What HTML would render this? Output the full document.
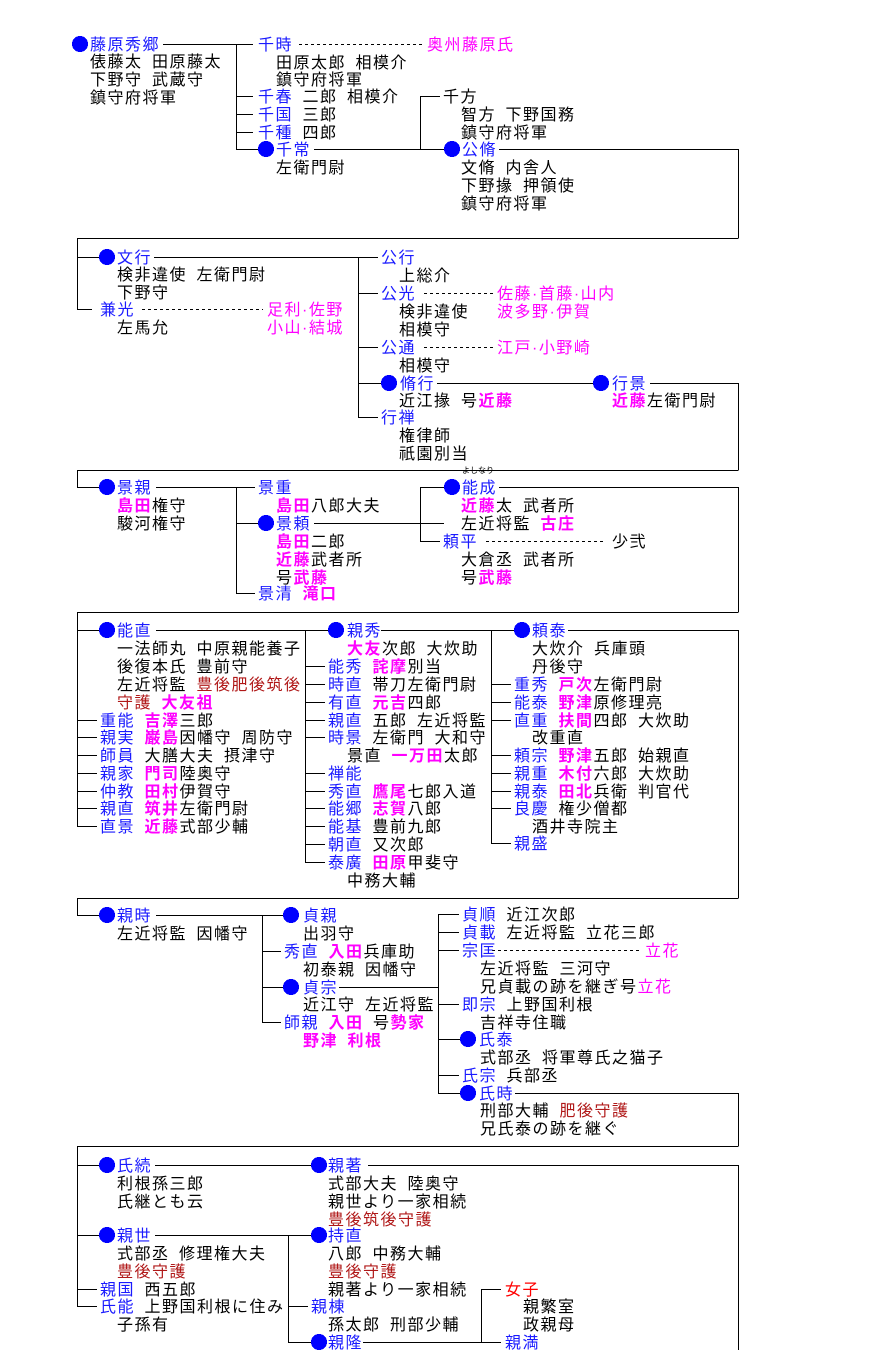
<!DOCTYPE html>
<html><head><meta charset="utf-8">
<style>
body{margin:0;background:#fff;}
#c{position:relative;width:880px;height:1350px;overflow:hidden;background:#fff;}
.t{position:absolute;margin-top:2px;line-height:20px;white-space:pre;font-family:"Liberation Sans","Noto Sans CJK JP",sans-serif;font-size:16px;letter-spacing:1.5px;color:#000;}
.b{color:#1a1aff}.m{color:#ff00ff}.mb{color:#ff00ff;font-weight:bold}.r{color:#b01818}.rr{color:#ff0000}
svg{position:absolute;left:0;top:0}
</style></head><body><div id="c">
<svg width="880" height="1350" shape-rendering="crispEdges">
<g stroke="#000" stroke-width="1" fill="none">
<path d="M163 44.5H236M236.5 44V149M236 44.5H253M236 96.5H253M236 114.5H253M236 132.5H253M236 149.5H258
M314 149.5H444M420.5 96V149M420 96.5H440M499 149.5H738.5M738.5 149V238M77 238.5H738.5
M77.5 238V309M77 257.5H99M77 309.5H92M154 257.5H378M358.5 257V417M358 293.5H378M358 347.5H378M358 417.5H378M358 383.5H381
M437 383.5H593M650 383.5H738.5M738.5 383V470M77 470.5H738.5
M77.5 470V487M77 487.5H99M156 487.5H255M236.5 487V593M236 523.5H258M236 593.5H255
M314 523.5H444M420.5 487V541M420 487.5H444M420 541.5H440M499 487.5H738.5M738.5 487V612M77 612.5H738.5
M77.5 612V826M77 630.5H99M77 720.5H97M77 737.5H97M77 755.5H97M77 773.5H97M77 791.5H97M77 808.5H97M77 826.5H97
M156 630.5H328M305.5 630V862M305 666.5H325M305 684.5H325M305 702.5H325M305 720.5H325M305 737.5H325M305 773.5H325M305 791.5H325M305 808.5H325M305 826.5H325M305 844.5H325M305 862.5H325
M381 630.5H514M491.5 630V843M491 684.5H511M491 702.5H511M491 720.5H511M491 755.5H511M491 773.5H511M491 791.5H511M491 808.5H511M491 843.5H511
M568 630.5H738.5M738.5 630V898M77 898.5H738.5
M77.5 898V915M77 915.5H99M156 915.5H283M262.5 915V1022M262 951.5H281M262 1022.5H281M262 987.5H283
M339 987.5H438M438.5 914V1093M438 914.5H459M438 932.5H459M438 950.5H459M438 1004.5H459M438 1075.5H459M438 1039.5H460M438 1093.5H460
M515 1093.5H738.5M738.5 1093V1146M77 1146.5H738.5
M77.5 1146V1306M77 1165.5H99M77 1235.5H99M77 1289.5H97M77 1306.5H97
M155 1165.5H311M368 1165.5H738.5M738.5 1165V1350
M155 1235.5H311M288.5 1235V1342M288 1306.5H308M288 1342.5H311
M363 1342.5H501M481.5 1289V1342M481 1289.5H501"/>
<path stroke-dasharray="3,3" d="M299 44.5H423M142 309.5H263M424 293.5H495M424 347.5H495M486 541.5H606M492 950.5H642"/>
</g>
<g fill="#0000ff">
<circle cx="80" cy="44" r="8"/><circle cx="266" cy="149" r="8"/><circle cx="452" cy="149" r="8"/>
<circle cx="107" cy="257" r="8"/><circle cx="389" cy="383" r="8"/><circle cx="601" cy="383" r="8"/>
<circle cx="107" cy="487" r="8"/><circle cx="266" cy="523" r="8"/><circle cx="452" cy="487" r="8"/>
<circle cx="107" cy="630" r="8"/><circle cx="336" cy="630" r="8"/><circle cx="522" cy="630" r="8"/>
<circle cx="107" cy="915" r="8"/><circle cx="291" cy="915" r="8"/><circle cx="291" cy="987" r="8"/><circle cx="468" cy="1039" r="8"/><circle cx="468" cy="1093" r="8"/>
<circle cx="107" cy="1165" r="8"/><circle cx="319" cy="1165" r="8"/><circle cx="107" cy="1235" r="8"/><circle cx="319" cy="1235" r="8"/><circle cx="319" cy="1342" r="8"/>
</g>
</svg>

<div class="t b" style="left:90px;top:34px">藤原秀郷</div>
<div class="t" style="left:90px;top:51px">俵藤太&ensp;田原藤太</div>
<div class="t" style="left:90px;top:69px">下野守&ensp;武蔵守</div>
<div class="t" style="left:90px;top:87px">鎮守府将軍</div>
<div class="t b" style="left:258px;top:34px">千時</div>
<div class="t m" style="left:427px;top:34px">奥州藤原氏</div>
<div class="t" style="left:276px;top:52px">田原太郎&ensp;相模介</div>
<div class="t" style="left:276px;top:69px">鎮守府将軍</div>
<div class="t" style="left:258px;top:86px"><span class="b">千春</span>&ensp;二郎&ensp;相模介</div>
<div class="t" style="left:258px;top:104px"><span class="b">千国</span>&ensp;三郎</div>
<div class="t" style="left:258px;top:122px"><span class="b">千種</span>&ensp;四郎</div>
<div class="t b" style="left:276px;top:139px">千常</div>
<div class="t" style="left:276px;top:157px">左衛門尉</div>
<div class="t" style="left:443px;top:86px">千方</div>
<div class="t" style="left:461px;top:104px">智方&ensp;下野国務</div>
<div class="t" style="left:461px;top:122px">鎮守府将軍</div>
<div class="t b" style="left:462px;top:139px">公脩</div>
<div class="t" style="left:461px;top:157px">文脩&ensp;内舎人</div>
<div class="t" style="left:461px;top:175px">下野掾&ensp;押領使</div>
<div class="t" style="left:461px;top:193px">鎮守府将軍</div>

<div class="t b" style="left:117px;top:247px">文行</div>
<div class="t" style="left:117px;top:264px">検非違使&ensp;左衛門尉</div>
<div class="t" style="left:117px;top:282px">下野守</div>
<div class="t b" style="left:100px;top:299px">兼光</div>
<div class="t" style="left:117px;top:317px">左馬允</div>
<div class="t m" style="left:267px;top:299px">足利·佐野</div>
<div class="t m" style="left:267px;top:317px">小山·結城</div>
<div class="t b" style="left:381px;top:247px">公行</div>
<div class="t" style="left:399px;top:265px">上総介</div>
<div class="t b" style="left:381px;top:283px">公光</div>
<div class="t m" style="left:497px;top:283px">佐藤·首藤·山内</div>
<div class="t" style="left:399px;top:301px">検非違使</div>
<div class="t m" style="left:497px;top:301px">波多野·伊賀</div>
<div class="t" style="left:399px;top:319px">相模守</div>
<div class="t b" style="left:381px;top:337px">公通</div>
<div class="t m" style="left:497px;top:337px">江戸·小野崎</div>
<div class="t" style="left:399px;top:355px">相模守</div>
<div class="t b" style="left:400px;top:373px">脩行</div>
<div class="t" style="left:399px;top:390px">近江掾&ensp;号<span class="mb">近藤</span></div>
<div class="t b" style="left:612px;top:373px">行景</div>
<div class="t" style="left:612px;top:390px"><span class="mb">近藤</span>左衛門尉</div>
<div class="t b" style="left:381px;top:407px">行禅</div>
<div class="t" style="left:399px;top:425px">権律師</div>
<div class="t" style="left:399px;top:443px">祇園別当</div>
<div class="t" style="left:462px;top:464px;font-size:8px;line-height:10px;letter-spacing:0">よしなり</div>

<div class="t b" style="left:117px;top:477px">景親</div>
<div class="t" style="left:117px;top:495px"><span class="mb">島田</span>権守</div>
<div class="t" style="left:117px;top:513px">駿河権守</div>
<div class="t b" style="left:258px;top:477px">景重</div>
<div class="t" style="left:276px;top:495px"><span class="mb">島田</span>八郎大夫</div>
<div class="t b" style="left:276px;top:513px">景頼</div>
<div class="t" style="left:276px;top:531px"><span class="mb">島田</span>二郎</div>
<div class="t" style="left:276px;top:549px"><span class="mb">近藤</span>武者所</div>
<div class="t" style="left:276px;top:567px">号<span class="mb">武藤</span></div>
<div class="t" style="left:258px;top:583px"><span class="b">景清</span>&ensp;<span class="mb">滝口</span></div>
<div class="t b" style="left:462px;top:477px">能成</div>
<div class="t" style="left:461px;top:495px"><span class="mb">近藤</span>太&ensp;武者所</div>
<div class="t" style="left:461px;top:513px">左近将監&ensp;<span class="mb">古庄</span></div>
<div class="t b" style="left:443px;top:531px">頼平</div>
<div class="t" style="left:612px;top:531px">少弐</div>
<div class="t" style="left:461px;top:549px">大倉丞&ensp;武者所</div>
<div class="t" style="left:461px;top:567px">号<span class="mb">武藤</span></div>

<div class="t b" style="left:117px;top:620px">能直</div>
<div class="t" style="left:117px;top:638px">一法師丸&ensp;中原親能養子</div>
<div class="t" style="left:117px;top:656px">後復本氏&ensp;豊前守</div>
<div class="t" style="left:117px;top:674px">左近将監&ensp;<span class="r">豊後肥後筑後</span></div>
<div class="t" style="left:117px;top:692px"><span class="r">守護</span>&ensp;<span class="mb">大友祖</span></div>
<div class="t" style="left:100px;top:710px"><span class="b">重能</span>&ensp;<span class="mb">吉澤</span>三郎</div>
<div class="t" style="left:100px;top:727px"><span class="b">親実</span>&ensp;<span class="mb">巌島</span>因幡守&ensp;周防守</div>
<div class="t" style="left:100px;top:745px"><span class="b">師員</span>&ensp;大膳大夫&ensp;摂津守</div>
<div class="t" style="left:100px;top:763px"><span class="b">親家</span>&ensp;<span class="mb">門司</span>陸奥守</div>
<div class="t" style="left:100px;top:781px"><span class="b">仲教</span>&ensp;<span class="mb">田村</span>伊賀守</div>
<div class="t" style="left:100px;top:798px"><span class="b">親直</span>&ensp;<span class="mb">筑井</span>左衛門尉</div>
<div class="t" style="left:100px;top:816px"><span class="b">直景</span>&ensp;<span class="mb">近藤</span>式部少輔</div>

<div class="t b" style="left:347px;top:620px">親秀</div>
<div class="t" style="left:347px;top:638px"><span class="mb">大友</span>次郎&ensp;大炊助</div>
<div class="t" style="left:328px;top:656px"><span class="b">能秀</span>&ensp;<span class="mb">詫摩</span>別当</div>
<div class="t" style="left:328px;top:674px"><span class="b">時直</span>&ensp;帯刀左衛門尉</div>
<div class="t" style="left:328px;top:692px"><span class="b">有直</span>&ensp;<span class="mb">元吉</span>四郎</div>
<div class="t" style="left:328px;top:710px"><span class="b">親直</span>&ensp;五郎&ensp;左近将監</div>
<div class="t" style="left:328px;top:727px"><span class="b">時景</span>&ensp;左衛門&ensp;大和守</div>
<div class="t" style="left:347px;top:745px">景直&ensp;<span class="mb">一万田</span>太郎</div>
<div class="t b" style="left:328px;top:763px">禅能</div>
<div class="t" style="left:328px;top:781px"><span class="b">秀直</span>&ensp;<span class="mb">鷹尾</span>七郎入道</div>
<div class="t" style="left:328px;top:798px"><span class="b">能郷</span>&ensp;<span class="mb">志賀</span>八郎</div>
<div class="t" style="left:328px;top:816px"><span class="b">能基</span>&ensp;豊前九郎</div>
<div class="t" style="left:328px;top:834px"><span class="b">朝直</span>&ensp;又次郎</div>
<div class="t" style="left:328px;top:852px"><span class="b">泰廣</span>&ensp;<span class="mb">田原</span>甲斐守</div>
<div class="t" style="left:347px;top:870px">中務大輔</div>

<div class="t b" style="left:532px;top:620px">頼泰</div>
<div class="t" style="left:532px;top:638px">大炊介&ensp;兵庫頭</div>
<div class="t" style="left:532px;top:656px">丹後守</div>
<div class="t" style="left:514px;top:674px"><span class="b">重秀</span>&ensp;<span class="mb">戸次</span>左衛門尉</div>
<div class="t" style="left:514px;top:692px"><span class="b">能泰</span>&ensp;<span class="mb">野津</span>原修理亮</div>
<div class="t" style="left:514px;top:710px"><span class="b">直重</span>&ensp;<span class="mb">扶間</span>四郎&ensp;大炊助</div>
<div class="t" style="left:532px;top:727px">改重直</div>
<div class="t" style="left:514px;top:745px"><span class="b">頼宗</span>&ensp;<span class="mb">野津</span>五郎&ensp;始親直</div>
<div class="t" style="left:514px;top:763px"><span class="b">親重</span>&ensp;<span class="mb">木付</span>六郎&ensp;大炊助</div>
<div class="t" style="left:514px;top:781px"><span class="b">親泰</span>&ensp;<span class="mb">田北</span>兵衛&ensp;判官代</div>
<div class="t" style="left:514px;top:798px"><span class="b">良慶</span>&ensp;権少僧都</div>
<div class="t" style="left:532px;top:816px">酒井寺院主</div>
<div class="t b" style="left:514px;top:833px">親盛</div>

<div class="t b" style="left:117px;top:905px">親時</div>
<div class="t" style="left:117px;top:923px">左近将監&ensp;因幡守</div>
<div class="t b" style="left:303px;top:905px">貞親</div>
<div class="t" style="left:303px;top:923px">出羽守</div>
<div class="t" style="left:284px;top:941px"><span class="b">秀直</span>&ensp;<span class="mb">入田</span>兵庫助</div>
<div class="t" style="left:303px;top:959px">初泰親&ensp;因幡守</div>
<div class="t b" style="left:303px;top:977px">貞宗</div>
<div class="t" style="left:303px;top:994px">近江守&ensp;左近将監</div>
<div class="t" style="left:284px;top:1012px"><span class="b">師親</span>&ensp;<span class="mb">入田</span>&ensp;号<span class="mb">勢家</span></div>
<div class="t mb" style="left:303px;top:1030px">野津&ensp;利根</div>

<div class="t" style="left:462px;top:904px"><span class="b">貞順</span>&ensp;近江次郎</div>
<div class="t" style="left:462px;top:922px"><span class="b">貞載</span>&ensp;左近将監&ensp;立花三郎</div>
<div class="t b" style="left:462px;top:940px">宗匡</div>
<div class="t m" style="left:645px;top:940px">立花</div>
<div class="t" style="left:480px;top:958px">左近将監&ensp;三河守</div>
<div class="t" style="left:480px;top:976px">兄貞載の跡を継ぎ号<span class="m">立花</span></div>
<div class="t" style="left:462px;top:994px"><span class="b">即宗</span>&ensp;上野国利根</div>
<div class="t" style="left:480px;top:1012px">吉祥寺住職</div>
<div class="t b" style="left:479px;top:1029px">氏泰</div>
<div class="t" style="left:480px;top:1047px">式部丞&ensp;将軍尊氏之猫子</div>
<div class="t" style="left:462px;top:1065px"><span class="b">氏宗</span>&ensp;兵部丞</div>
<div class="t b" style="left:479px;top:1083px">氏時</div>
<div class="t" style="left:480px;top:1100px">刑部大輔&ensp;<span class="r">肥後守護</span></div>
<div class="t" style="left:480px;top:1118px">兄氏泰の跡を継ぐ</div>

<div class="t b" style="left:117px;top:1155px">氏続</div>
<div class="t" style="left:117px;top:1173px">利根孫三郎</div>
<div class="t" style="left:117px;top:1191px">氏継とも云</div>
<div class="t b" style="left:328px;top:1155px">親著</div>
<div class="t" style="left:328px;top:1173px">式部大夫&ensp;陸奥守</div>
<div class="t" style="left:328px;top:1191px">親世より一家相続</div>
<div class="t r" style="left:328px;top:1209px">豊後筑後守護</div>
<div class="t b" style="left:117px;top:1225px">親世</div>
<div class="t" style="left:117px;top:1243px">式部丞&ensp;修理権大夫</div>
<div class="t r" style="left:117px;top:1261px">豊後守護</div>
<div class="t" style="left:100px;top:1279px"><span class="b">親国</span>&ensp;西五郎</div>
<div class="t" style="left:100px;top:1296px"><span class="b">氏能</span>&ensp;上野国利根に住み</div>
<div class="t" style="left:117px;top:1314px">子孫有</div>
<div class="t b" style="left:328px;top:1225px">持直</div>
<div class="t" style="left:328px;top:1243px">八郎&ensp;中務大輔</div>
<div class="t r" style="left:328px;top:1261px">豊後守護</div>
<div class="t" style="left:328px;top:1279px">親著より一家相続</div>
<div class="t b" style="left:311px;top:1296px">親棟</div>
<div class="t" style="left:328px;top:1314px">孫太郎&ensp;刑部少輔</div>
<div class="t b" style="left:328px;top:1332px">親隆</div>
<div class="t rr" style="left:505px;top:1279px">女子</div>
<div class="t" style="left:523px;top:1296px">親繁室</div>
<div class="t" style="left:523px;top:1314px">政親母</div>
<div class="t b" style="left:505px;top:1332px">親満</div>
</div></body></html>
